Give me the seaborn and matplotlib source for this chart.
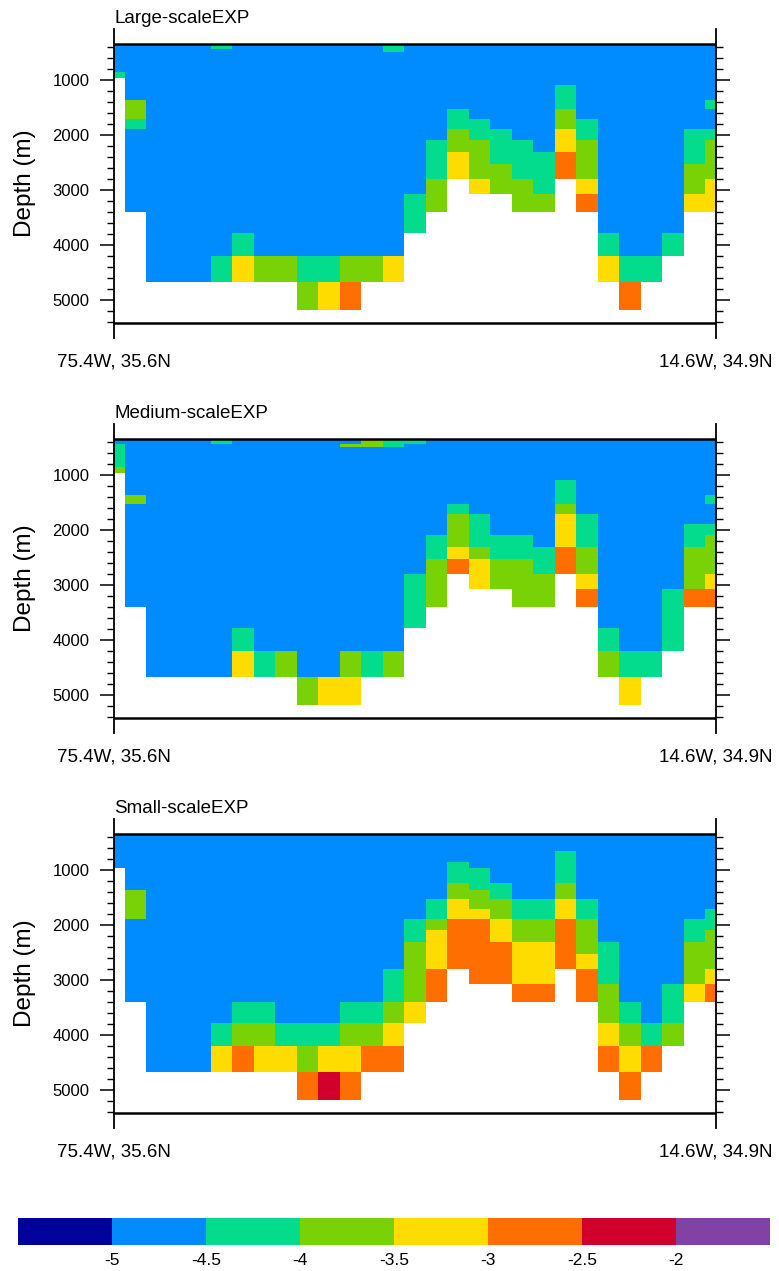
import numpy as np
import matplotlib
matplotlib.use("Agg")
import matplotlib.pyplot as plt
import matplotlib.cm as cm
from matplotlib.colors import ListedColormap, BoundaryNorm
import seaborn as sns

# ---------------- data ----------------
panel_titles = ["Large-scaleEXP", "Medium-scaleEXP", "Small-scaleEXP"]
section_labels = ["75.4W, 35.6N", "14.6W, 34.9N"]
depth_ticks = [1000, 2000, 3000, 4000, 5000]
depth_tick_labels = ["1000", "2000", "3000", "4000", "5000"]
depth_minor_ticks = [400, 600, 800, 1200, 1400, 1600, 1800, 2200, 2400, 2600, 2800,
                     3200, 3400, 3600, 3800, 4200, 4400, 4600, 4800, 5200, 5400]

# model layer boundaries (m)
depth_edges = [345, 436, 491, 655, 855, 964, 1091, 1236, 1364, 1527, 1709, 1891,
               2091, 2309, 2527, 2800, 3073, 3400, 3782, 4200, 4673, 5182]
top_depth = 345
bottom_depth = 5418

contour_levels = [-5, -4.5, -4, -3.5, -3, -2.5, -2]
colorbar_labels = ["-5", "-4.5", "-4", "-3.5", "-3", "-2.5", "-2"]
level_colors = ["#00009A", "#008CFF", "#02DC8C", "#78D205", "#FFDC00",
                "#FF6E00", "#D2002D", "#8241A5"]

# class code -> representative value of the contour interval
class_values = {"B": -4.75, "T": -4.25, "G": -3.75, "Y": -3.25,
                "O": -2.75, "R": -2.25, ".": np.nan}

# one profile (top -> bottom, 21 layers) per station (29 stations, W -> E)
large_profiles = [
    "BBBB T ..... ..... ..... .",
    "BBBBB BBB GG T BBBBB B ....",
    "BBBBB BBBBB BBBBB BBBBB .",
    "BBBBB BBBBB BBBBB BBBBB .",
    "BBBBB BBBBB BBBBB BBBBB .",
    "T BBBBB BBBBB BBBBB BBB T .",
    "BBBBB BBBBB BBBBB BBB T Y .",
    "BBBBB BBBBB BBBBB BBBB G .",
    "BBBBB BBBBB BBBBB BBBB G .",
    "BBBBB BBBBB BBBBB BBBB T G",
    "BBBBB BBBBB BBBBB BBBB T Y",
    "BBBBB BBBBB BBBBB BBBB G O",
    "BBBBB BBBBB BBBBB BBBB G .",
    "TT BBBBB BBBBB BBBBB BB Y .",
    "BBBBB BBBBB BBBBB B TT ...",
    "BBBBB BBBBB BB TTT GG ....",
    "BBBBB BBBB TT GG YY ......",
    "BBBBB BBBBB TT GGG Y .....",
    "BBBBB BBBBB B TTT GG .....",
    "BBBBB BBBBB BB TTT GG ....",
    "BBBBB BBBBB BBB TTT G ....",
    "BBBBB B TTT GG YY OO ......",
    "BBBBB BBBBB TT GGG Y O ....",
    "BBBBB BBBBB BBBBB BBB T Y .",
    "BBBBB BBBBB BBBBB BBBB T O",
    "BBBBB BBBBB BBBBB BBBB T .",
    "BBBBB BBBBB BBBBB BBB T ..",
    "BBBBB BBBBB B TTT GG Y ....",
    "BBBBB BBB T BB T GGG YY ....",
]

medium_profiles = [
    "B TTT G ..... ..... ..... .",
    "BBBBB BBB G BBBBB BBB ....",
    "BBBBB BBBBB BBBBB BBBBB .",
    "BBBBB BBBBB BBBBB BBBBB .",
    "BBBBB BBBBB BBBBB BBBBB .",
    "T BBBBB BBBBB BBBBB BBBB .",
    "BBBBB BBBBB BBBBB BBB T Y .",
    "BBBBB BBBBB BBBBB BBBB T .",
    "BBBBB BBBBB BBBBB BBBB G .",
    "BBBBB BBBBB BBBBB BBBBB G",
    "BBBBB BBBBB BBBBB BBBBB Y",
    "B G BBBBB BBBBB BBBBB BB G Y",
    "GG BBBBB BBBBB BBBBB BB T .",
    "TT BBBBB BBBBB BBBBB BB G .",
    "T BBBBB BBBBB BBBB TTT ...",
    "BBBBB BBBBB BB TT GGG ....",
    "BBBBB BBBB T GGG Y O ......",
    "BBBBB BBBBB TTT G YY .....",
    "BBBBB BBBBB BB TT GG .....",
    "BBBBB BBBBB BB TT GGG ....",
    "BBBBB BBBBB BBB TT GG ....",
    "BBBBB B TTT G YYY OO ......",
    "BBBBB BBBBB TTT GG Y O ....",
    "BBBBB BBBBB BBBBB BBB T G .",
    "BBBBB BBBBB BBBBB BBBB T Y",
    "BBBBB BBBBB BBBBB BBBB T .",
    "BBBBB BBBBB BBBBB B TTT ..",
    "BBBBB BBBBB B TT GGG O ....",
    "BBBBB BBB T BB T GGG Y O ....",
]

small_profiles = [
    "BBBBB ..... ..... ..... .",
    "BBBBB BBB GGG BBBBB B ....",
    "BBBBB BBBBB BBBBB BBBBB .",
    "BBBBB BBBBB BBBBB BBBBB .",
    "BBBBB BBBBB BBBBB BBBBB .",
    "BBBBB BBBBB BBBBB BBB T Y .",
    "BBBBB BBBBB BBBBB BB T G O .",
    "BBBBB BBBBB BBBBB BB T G Y .",
    "BBBBB BBBBB BBBBB BBB T Y .",
    "BBBBB BBBBB BBBBB BBB T G O",
    "BBBBB BBBBB BBBBB BBB T Y R",
    "BBBBB BBBBB BBBBB BB T G Y O",
    "BBBBB BBBBB BBBBB BB T G O .",
    "BBBBB BBBBB BBBBB TT G Y O .",
    "BBBBB BBBBB B TT GGGG Y ...",
    "BBBBB BBBB TT G YYY OO ....",
    "BBBB TTT GG YY OOOO ......",
    "BBBBB TTT GG Y OOOOO .....",
    "BBBBB BB TT GG YY OOO .....",
    "BBBBB BBBB TT GG YYY O ....",
    "BBBBB BBBB TT GG YYY O ....",
    "BBB TTTT GG YY OOOO ......",
    "BBBBB BBBB TT GGG Y OO ....",
    "BBBBB BBBBB BBB TTT GG Y O .",
    "BBBBB BBBBB BBBBB BB T G Y O",
    "BBBBB BBBBB BBBBB BBB T O .",
    "BBBBB BBBBB BBBBB B TT G ..",
    "BBBBB BBBBB B TT GGG Y ....",
    "BBBBB BBBBB TT GGG Y O ....",
]

panels = [large_profiles, medium_profiles, small_profiles]


def to_grid(profiles):
    cols = []
    for i, p in enumerate(profiles):
        s = p.replace(" ", "")
        assert len(s) == len(depth_edges) - 1, (i, len(s), p)
        cols.append([class_values[c] for c in s])
    return np.ma.masked_invalid(np.array(cols, dtype=float).T)


# ---------------- style ----------------
sns.set_theme(style="ticks")
plt.rcParams["font.family"] = ["Liberation Sans", "DejaVu Sans"]
plt.rcParams["text.color"] = "black"
plt.rcParams["axes.edgecolor"] = "black"
plt.rcParams["xtick.color"] = "black"
plt.rcParams["ytick.color"] = "black"

W, H = 779, 1271
fig = plt.figure(figsize=(W / 100, H / 100), dpi=100)

cmap = ListedColormap(level_colors)
norm = BoundaryNorm(contour_levels, ncolors=len(level_colors), extend="both")

ax_left, ax_right = 114, 716
panel_tops = [29, 424, 819]
panel_h = 309
y_top_lim, y_bot_lim = 73, 5691

n_st = len(large_profiles)
x_edges = np.arange(n_st + 1) - 0.5

for title, profiles, top in zip(panel_titles, panels, panel_tops):
    ax = fig.add_axes([ax_left / W, 1 - (top + panel_h) / H,
                       (ax_right - ax_left) / W, panel_h / H])
    grid = to_grid(profiles)
    ax.pcolormesh(x_edges, depth_edges, grid, cmap=cmap, norm=norm,
                  shading="flat", antialiased=False, linewidth=0)
    ax.set_xlim(0, n_st - 1)
    ax.set_ylim(y_bot_lim, y_top_lim)
    ax.set_facecolor("white")
    for side in ["top", "bottom"]:
        ax.spines[side].set_visible(False)
    for side in ["left", "right"]:
        ax.spines[side].set_linewidth(1.3)
        ax.spines[side].set_color("black")
    ax.axhline(top_depth, color="black", lw=1.8, zorder=5)
    ax.axhline(bottom_depth, color="black", lw=1.8, zorder=5)

    ax.set_yticks(depth_ticks)
    ax.set_yticklabels(depth_tick_labels)
    ax.set_yticks(depth_minor_ticks, minor=True)
    ax.tick_params(axis="y", which="major", direction="out", length=10,
                   width=1.1, left=True, right=True, labelleft=True,
                   labelright=False, labelsize=12, pad=7.5)
    ax.tick_params(axis="y", which="minor", direction="out", length=5,
                   width=1.0, left=True, right=True)
    ax.set_xticks([0, n_st - 1])
    ax.set_xticklabels(section_labels)
    ax.tick_params(axis="x", which="both", length=0, labelsize=13.5, pad=11,
                   bottom=True, top=False)
    ax.set_title(title, loc="left", fontsize=13.5, pad=4.5)

    fig.text(25 / W, 1 - (top + panel_h / 2) / H, "Depth (m)", rotation=90,
             ha="center", va="center", fontsize=17.5)

# ---------------- colorbar ----------------
cax = fig.add_axes([18 / W, 1 - 1245 / H, 752 / W, 27 / H])
sm = cm.ScalarMappable(norm=norm, cmap=cmap)
cb = fig.colorbar(sm, cax=cax, orientation="horizontal", extend="both",
                  extendrect=True, extendfrac=1 / 6, ticks=contour_levels,
                  drawedges=False)
cb.outline.set_visible(False)
cb.set_ticklabels(colorbar_labels)
cb.ax.tick_params(length=0, labelsize=12.5, pad=6)

fig.savefig("out.png", dpi=100)
